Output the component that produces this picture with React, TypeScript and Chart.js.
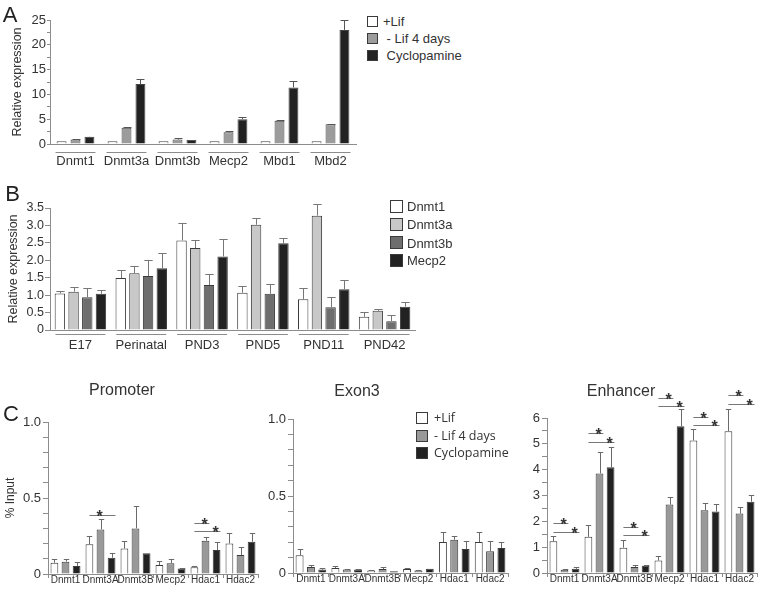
import React, { useEffect, useRef } from "react";
import { Chart, registerables } from "chart.js";

Chart.register(...registerables);

const FONT = "'Liberation Sans', Arial, Helvetica, sans-serif";
const LEGEND_FONT_C = "'Open Sans', 'Liberation Sans', sans-serif";
const TEXT = "#333333";
const AXIS = "#8c8c8c";
const EDGE = "#3a3a3a";

Chart.defaults.font.family = FONT;
Chart.defaults.color = TEXT;

// ---------------- Panel A data ----------------
const aCategories = ["Dnmt1", "Dnmt3a", "Dnmt3b", "Mecp2", "Mbd1", "Mbd2"];
const aSeriesNames = ["+Lif", " - Lif 4 days", " Cyclopamine"];
const aLif = [0.55, 0.55, 0.55, 0.55, 0.55, 0.55];
const aLifErr = [0, 0, 0, 0, 0, 0];
const aNoLif = [0.9, 3.3, 0.9, 2.35, 4.7, 4.0];
const aNoLifErr = [0.05, 0.1, 0.35, 0.2, 0.1, 0.05];
const aCyc = [1.45, 12.1, 0.8, 5.0, 11.4, 23.0];
const aCycErr = [0.05, 1.1, 0.05, 0.5, 1.4, 2.0];

// ---------------- Panel B data ----------------
const bCategories = ["E17", "Perinatal", "PND3", "PND5", "PND11", "PND42"];
const bSeriesNames = ["Dnmt1", "Dnmt3a", "Dnmt3b", "Mecp2"];
const bDnmt1 = [1.05, 1.49, 2.57, 1.07, 0.88, 0.38];
const bDnmt1Err = [0.07, 0.24, 0.5, 0.18, 0.32, 0.15];
const bDnmt3a = [1.1, 1.63, 2.35, 3.02, 3.28, 0.55];
const bDnmt3aErr = [0.12, 0.22, 0.22, 0.19, 0.33, 0.06];
const bDnmt3b = [0.94, 1.55, 1.29, 1.04, 0.65, 0.25];
const bDnmt3bErr = [0.26, 0.45, 0.32, 0.28, 0.31, 0.19];
const bMecp2 = [1.04, 1.77, 2.11, 2.49, 1.17, 0.67];
const bMecp2Err = [0.11, 0.44, 0.51, 0.15, 0.27, 0.12];

// ---------------- Panel C data ----------------
const cCategories = ["Dnmt1", "Dnmt3A", "Dnmt3B", "Mecp2", "Hdac1", "Hdac2"];
const cSeriesNames = ["+Lif", "- Lif 4 days", "Cyclopamine"];
const cTitles = ["Promoter", "Exon3", "Enhancer"];
// Promoter
const pLif = [0.074, 0.195, 0.168, 0.059, 0.044, 0.201];
const pLifErr = [0.024, 0.057, 0.051, 0.024, 0.011, 0.066];
const pNoLif = [0.081, 0.293, 0.3, 0.07, 0.219, 0.125];
const pNoLifErr = [0.017, 0.066, 0.149, 0.026, 0.022, 0.054];
const pCyc = [0.053, 0.107, 0.136, 0.037, 0.158, 0.212];
const pCycErr = [0.024, 0.033, 0, 0.005, 0.054, 0.055];
// significance marks: [group, last bar, star bar, level]
const pSig = [
  [1, 2, 1, 0.385],
  [4, 1, 1, 0.333],
  [4, 2, 2, 0.28],
];
// Exon3
const eLif = [0.115, 0.032, 0.017, 0.026, 0.201, 0.201];
const eLifErr = [0.041, 0.011, 0.005, 0.006, 0.065, 0.065];
const eNoLif = [0.039, 0.022, 0.026, 0.017, 0.216, 0.141];
const eNoLifErr = [0.011, 0.004, 0.013, 0.005, 0.026, 0.069];
const eCyc = [0.022, 0.022, 0.011, 0.028, 0.156, 0.162];
const eCycErr = [0.01, 0.004, 0, 0, 0.054, 0.039];
// Enhancer
const hLif = [1.23, 1.4, 0.98, 0.48, 5.13, 5.49];
const hLifErr = [0.19, 0.47, 0.31, 0.17, 0.43, 0.84];
const hNoLif = [0.13, 3.85, 0.23, 2.65, 2.43, 2.3];
const hNoLifErr = [0.02, 0.83, 0.08, 0.28, 0.28, 0.26];
const hCyc = [0.16, 4.09, 0.28, 5.68, 2.38, 2.76];
const hCycErr = [0.06, 0.79, 0.02, 0.68, 0.29, 0.26];
const hSig = [
  [0, 1, 1, 1.92],
  [0, 2, 2, 1.59],
  [1, 1, 1, 5.43],
  [1, 2, 2, 5.09],
  [2, 1, 1, 1.79],
  [2, 2, 2, 1.46],
  [3, 1, 1, 6.78],
  [3, 2, 2, 6.46],
  [4, 1, 1, 6.03],
  [4, 2, 2, 5.72],
  [5, 1, 1, 6.88],
  [5, 2, 2, 6.55],
];

// ---------------- styles ----------------
const aColors = ["#ffffff", "#9c9c9c", "#222222"];
const bColors = ["#ffffff", "#c8c8c8", "#6e6e6e", "#222222"];
const cColors = ["#ffffff", "#999999", "#222222"];

type Series = { values: number[]; errors: number[]; color: string };
type Spec = {
  box: number[];
  area: number[];
  categories: string[];
  series: Series[];
  yMax: number;
  yStep: number;
  labelStep: number;
  decimals: number;
  yFont: number;
  yTickLen: number;
  yPad: number;
  xFont: number;
  xPad: number;
  xTicks: boolean;
  yTitle?: string;
  yTitleSize?: number;
  yTitlePad?: number;
  catPct: number;
  barPct: number;
  edge: string;
  errColor: string;
  capRatio: number;
  underline?: { offset: number; half: number };
  sig?: number[][];
};

const mk = (vals: number[][], errs: number[][], colors: string[]): Series[] =>
  vals.map((v, i) => ({ values: v, errors: errs[i], color: colors[i] }));

const specA: Spec = {
  box: [0, 0, 362, 175],
  area: [50, 356, 20, 144],
  categories: aCategories,
  series: mk([aLif, aNoLif, aCyc], [aLifErr, aNoLifErr, aCycErr], aColors),
  yMax: 25,
  yStep: 2.5,
  labelStep: 5,
  decimals: 0,
  yFont: 13,
  yTickLen: 3,
  yPad: 1,
  xFont: 13,
  xPad: 10,
  xTicks: false,
  yTitle: "Relative expression",
  yTitleSize: 12.5,
  yTitlePad: 10,
  catPct: 0.82,
  barPct: 0.71,
  edge: "#444444",
  errColor: "#555555",
  capRatio: 0.4,
  underline: { offset: 8, half: 20 },
};

const specB: Spec = {
  box: [0, 180, 420, 175],
  area: [50, 415, 208, 330],
  categories: bCategories,
  series: mk(
    [bDnmt1, bDnmt3a, bDnmt3b, bMecp2],
    [bDnmt1Err, bDnmt3aErr, bDnmt3bErr, bMecp2Err],
    bColors
  ),
  yMax: 3.5,
  yStep: 0.5,
  labelStep: 0.5,
  decimals: 1,
  yFont: 12.5,
  yTickLen: 5,
  yPad: 1,
  xFont: 13,
  xPad: 8,
  xTicks: false,
  yTitle: "Relative expression",
  yTitleSize: 12.5,
  yTitlePad: 6,
  catPct: 0.9,
  barPct: 0.76,
  edge: EDGE,
  errColor: "#777777",
  capRatio: 0.4,
  underline: { offset: 4, half: 25 },
};

const cBase = {
  categories: cCategories,
  yFont: 13,
  yTickLen: 5,
  yPad: 2,
  xFont: 10,
  xPad: -4,
  xTicks: true,
  catPct: 0.95,
  barPct: 0.7,
  edge: EDGE,
  errColor: "#6a6a6a",
  capRatio: 0.35,
};

const specP: Spec = {
  ...cBase,
  box: [0, 380, 262, 215],
  area: [48, 258, 422, 574],
  series: mk([pLif, pNoLif, pCyc], [pLifErr, pNoLifErr, pCycErr], cColors),
  yMax: 1,
  yStep: 0.1,
  labelStep: 0.5,
  decimals: 1,
  yTitle: "% Input",
  yTitleSize: 12,
  yTitlePad: 3,
  sig: pSig,
};

const specE: Spec = {
  ...cBase,
  box: [250, 380, 262, 215],
  area: [293, 508, 419, 573],
  series: mk([eLif, eNoLif, eCyc], [eLifErr, eNoLifErr, eCycErr], cColors),
  yMax: 1,
  yStep: 0.1,
  labelStep: 0.5,
  decimals: 1,
};

const specH: Spec = {
  ...cBase,
  box: [505, 380, 255, 215],
  area: [547, 757, 418, 573],
  series: mk([hLif, hNoLif, hCyc], [hLifErr, hNoLifErr, hCycErr], cColors),
  yMax: 6,
  yStep: 0.5,
  labelStep: 1,
  decimals: 0,
  sig: hSig,
};

const specs = [specA, specB, specP, specE, specH];

function ChartPanel({ spec }: { spec: Spec }) {
  const ref = useRef<HTMLCanvasElement>(null);
  const [bl, bt, bw, bh] = spec.box;
  useEffect(() => {
    const s = spec;
    const [al, ar, at, ab] = s.area;
    const yWidth = al - bl;
    const padRight = bl + bw - ar;
    const padTop = at - bt;
    const xHeight = bt + bh - ab;

    const extras = {
      id: "extras",
      afterDatasetsDraw(chart: any) {
        const ctx = chart.ctx as CanvasRenderingContext2D;
        const ys = chart.scales.y;
        const xs = chart.scales.x;
        const area = chart.chartArea;
        ctx.save();
        ctx.lineWidth = 1;
        ctx.strokeStyle = s.errColor;
        s.series.forEach((se, di) => {
          const meta = chart.getDatasetMeta(di);
          meta.data.forEach((bar: any, i: number) => {
            const err = se.errors[i];
            if (!err) return;
            const v = se.values[i];
            const yTop = Math.round(ys.getPixelForValue(v + err)) + 0.5;
            const yBar = ys.getPixelForValue(v);
            const x = Math.round(bar.x) + 0.5;
            const cap = bar.width * s.capRatio;
            ctx.beginPath();
            ctx.moveTo(x, yBar);
            ctx.lineTo(x, yTop);
            ctx.moveTo(x - cap, yTop);
            ctx.lineTo(x + cap, yTop);
            ctx.stroke();
          });
        });
        if (s.underline) {
          ctx.strokeStyle = AXIS;
          ctx.lineWidth = 1.2;
          const y = Math.round(area.bottom + s.underline.offset) + 0.5;
          s.categories.forEach((_, i) => {
            const cx = xs.getPixelForValue(i);
            ctx.beginPath();
            ctx.moveTo(cx - s.underline!.half, y);
            ctx.lineTo(cx + s.underline!.half, y);
            ctx.stroke();
          });
        }
        if (s.sig) {
          ctx.strokeStyle = "#777777";
          ctx.fillStyle = TEXT;
          ctx.lineWidth = 1;
          ctx.font = `bold 16px ${FONT}`;
          ctx.textAlign = "center";
          ctx.textBaseline = "alphabetic";
          s.sig.forEach(([g, to, star, level]) => {
            const b0 = chart.getDatasetMeta(0).data[g];
            const bt2 = chart.getDatasetMeta(to).data[g];
            const bs = chart.getDatasetMeta(star).data[g];
            const y = Math.round(ys.getPixelForValue(level)) + 0.5;
            ctx.beginPath();
            ctx.moveTo(b0.x, y);
            ctx.lineTo(bt2.x + bt2.width / 2, y);
            ctx.stroke();
            ctx.fillText("*", bs.x - 1, y + 6);
          });
        }
        ctx.restore();
      },
    };

    const chart = new Chart(ref.current as HTMLCanvasElement, {
      type: "bar",
      data: {
        labels: s.categories,
        datasets: s.series.map((se) => ({
          data: se.values,
          backgroundColor: se.color,
          borderColor: s.edge,
          borderWidth: 1,
          categoryPercentage: s.catPct,
          barPercentage: s.barPct,
        })),
      },
      options: {
        animation: false,
        responsive: false,
        maintainAspectRatio: false,
        devicePixelRatio: 1,
        events: [],
        layout: { padding: { left: 0, right: padRight, top: padTop, bottom: 0 } },
        plugins: {
          legend: { display: false },
          tooltip: { enabled: false },
          title: { display: false },
        },
        scales: {
          x: {
            type: "category",
            offset: true,
            ticks: {
              font: { size: s.xFont, family: FONT },
              color: TEXT,
              padding: s.xPad,
              autoSkip: false,
              maxRotation: 0,
              minRotation: 0,
            },
            grid: {
              display: s.xTicks,
              drawOnChartArea: false,
              drawTicks: s.xTicks,
              tickLength: 4,
              color: AXIS,
              offset: true,
            },
            border: { display: true, color: AXIS, width: 1 },
            afterFit: (sc: any) => {
              sc.height = xHeight;
            },
          },
          y: {
            type: "linear",
            min: 0,
            max: s.yMax,
            ticks: {
              stepSize: s.yStep,
              autoSkip: false,
              font: { size: s.yFont, family: FONT },
              color: TEXT,
              padding: s.yPad,
              callback: (v: any) => {
                const n = Number(v);
                const k = n / s.labelStep;
                if (Math.abs(k - Math.round(k)) > 1e-6) return "";
                return Math.abs(n) < 1e-9 ? "0" : n.toFixed(s.decimals);
              },
            },
            grid: {
              display: true,
              drawOnChartArea: false,
              drawTicks: true,
              tickLength: s.yTickLen,
              color: AXIS,
            },
            border: { display: true, color: AXIS, width: 1 },
            title: s.yTitle
              ? {
                  display: true,
                  text: s.yTitle,
                  color: TEXT,
                  font: { size: s.yTitleSize, family: FONT },
                  padding: { top: s.yTitlePad, bottom: 0 },
                }
              : { display: false },
            afterFit: (sc: any) => {
              sc.width = yWidth;
            },
          },
        },
      } as any,
      plugins: [extras],
    });
    return () => chart.destroy();
  }, [spec]);
  return (
    <canvas
      ref={ref}
      width={bw}
      height={bh}
      style={{ position: "absolute", left: bl, top: bt, width: bw, height: bh }}
    />
  );
}

function Text({
  text,
  x,
  y,
  size,
  family = FONT,
  color = TEXT,
}: {
  text: string;
  x: number;
  y: number;
  size: number;
  family?: string;
  color?: string;
}) {
  return (
    <div
      style={{
        position: "absolute",
        left: x,
        top: y,
        transform: "translate(-50%, -50%)",
        fontSize: size,
        fontFamily: family,
        lineHeight: 1,
        whiteSpace: "pre",
        color,
      }}
    >
      {text}
    </div>
  );
}

function Legend({
  labels,
  colors,
  sqLeft,
  sqSize,
  textLeft,
  rows,
  size,
  family,
}: {
  labels: string[];
  colors: string[];
  sqLeft: number;
  sqSize: number;
  textLeft: number;
  rows: number[];
  size: number;
  family: string;
}) {
  return (
    <>
      {labels.map((t, i) => (
        <React.Fragment key={i}>
          <div
            style={{
              position: "absolute",
              left: sqLeft,
              top: rows[i] - sqSize / 2,
              width: sqSize,
              height: sqSize,
              boxSizing: "border-box",
              border: `1px solid ${EDGE}`,
              background: colors[i],
            }}
          />
          <div
            style={{
              position: "absolute",
              left: textLeft,
              top: rows[i],
              transform: "translateY(-50%)",
              fontSize: size,
              fontFamily: family,
              lineHeight: 1,
              whiteSpace: "pre",
              color: TEXT,
            }}
          >
            {t}
          </div>
        </React.Fragment>
      ))}
    </>
  );
}

export default function App() {
  return (
    <div
      style={{
        position: "absolute",
        left: 0,
        top: 0,
        width: 760,
        height: 595,
        overflow: "hidden",
        background: "#ffffff",
        fontFamily: FONT,
      }}
    >
      {specs.map((s, i) => (
        <ChartPanel key={i} spec={s} />
      ))}
      <Text text="A" x={10} y={14.5} size={22} color="#222" />
      <Text text="B" x={12.5} y={193.5} size={22} color="#222" />
      <Text text="C" x={11} y={414} size={22} color="#222" />
      <Text text={cTitles[0]} x={122} y={390} size={16} />
      <Text text={cTitles[1]} x={357} y={391} size={16} />
      <Text text={cTitles[2]} x={621} y={391} size={16} />
      <Legend
        labels={aSeriesNames}
        colors={aColors}
        sqLeft={367}
        sqSize={11}
        textLeft={383}
        rows={[21, 38, 55]}
        size={13}
        family={FONT}
      />
      <Legend
        labels={bSeriesNames}
        colors={bColors}
        sqLeft={390}
        sqSize={13}
        textLeft={407}
        rows={[206, 224, 242.5, 260]}
        size={13}
        family={FONT}
      />
      <Legend
        labels={cSeriesNames}
        colors={cColors}
        sqLeft={416}
        sqSize={12}
        textLeft={434}
        rows={[418, 435.5, 453]}
        size={12.5}
        family={LEGEND_FONT_C}
      />
    </div>
  );
}
